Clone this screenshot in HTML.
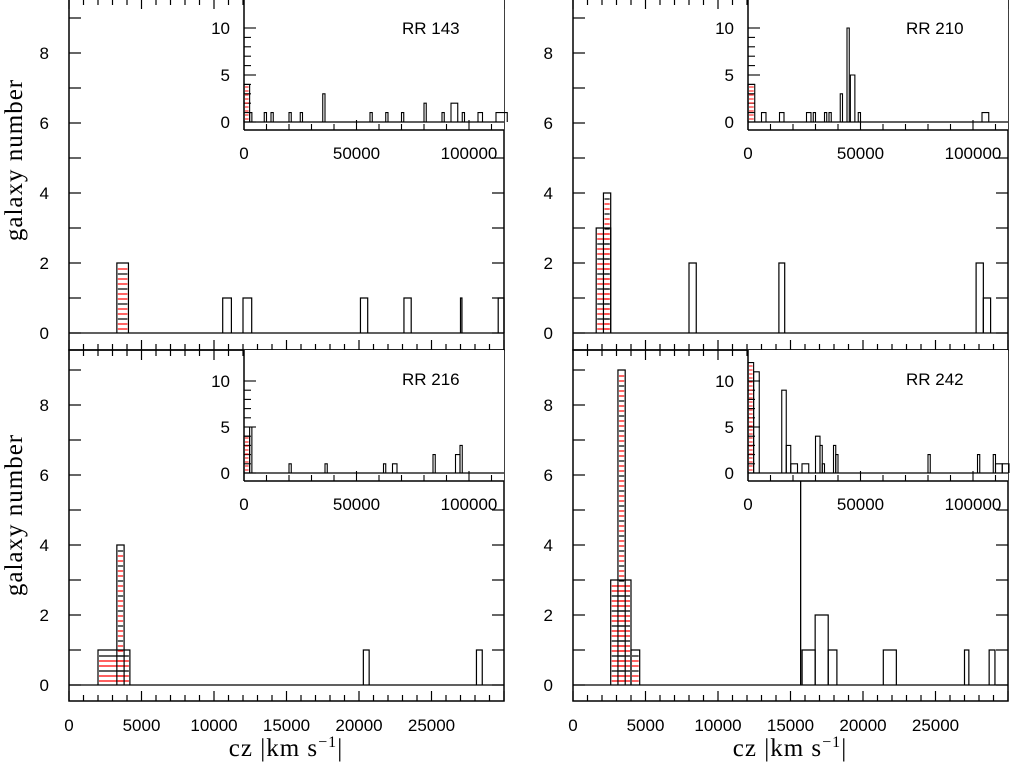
<!DOCTYPE html>
<html><head><meta charset="utf-8"><style>
html,body{margin:0;padding:0;background:#fff;}
svg{display:block;}
.tl{font-family:"Liberation Sans",sans-serif;font-size:17px;fill:#000;}
.ser{font-family:"Liberation Serif",serif;font-size:25px;fill:#000;}
</style></head><body>
<svg id="c" width="1010" height="764" xmlns="http://www.w3.org/2000/svg"></svg>
<script>
// main histogram data: [startKm, endKm, count]
const mainTicksX = [0,5000,10000,15000,20000,25000];
const mainTicksY = [0,2,4,6,8];
const insetTicksX = [0,50000,100000];
const insetTicksY = [0,5,10];
const rr143Main = [[10600,11200,1],[12000,12600,1],[20100,20600,1],[23100,23600,1],[27000,27100,1],[29600,30000,1]];
const rr143Hatch = [[3300,4100,2]];
const rr210Main = [[8000,8500,2],[14200,14600,2],[27800,28300,2],[28300,28800,1]];
const rr210Hatch = [[1600,2600,3],[2100,2600,4]];
const rr216Main = [[20300,20700,1],[28100,28500,1]];
const rr216Hatch = [[2000,4200,1],[3300,3800,4]];
const rr242Main = [[15800,16700,1],[16700,17600,2],[17600,18200,1],[21400,22300,1],[27000,27300,1],[28700,29100,1]];
const rr242Hatch = [[2600,4000,3],[3100,3600,9],[4000,4600,1]];
const rr242Line = [15700];
const rr143Inset = [[0,2500,4],[2500,3500,1],[9000,10000,1],[12000,13000,1],[20000,21000,1],[25000,26000,1],[35000,36000,3],[56000,57000,1],[63000,64000,1],[70000,71000,1],[80000,81000,2],[88000,89000,1],[92000,95000,2],[97000,98000,1],[104000,106000,1],[112000,117000,1]];
const rr210Inset = [[0,3000,4],[6000,8000,1],[14000,16000,1],[26000,28000,1],[29000,30000,1],[34000,35000,1],[36000,37000,1],[41000,42000,3],[44000,45000,10],[45500,47500,5],[49000,50000,1],[104000,107000,1]];
const rr216Inset = [[0,2500,4],[2500,3500,5],[20000,21000,1],[36000,37000,1],[62000,63000,1],[66000,68000,1],[84000,85000,2],[94000,96000,2],[96000,97000,3]];
const rr242Inset = [[0,2500,12],[2500,5000,11],[15000,17000,9],[17000,19000,3],[19000,22000,1],[24000,27000,1],[30000,32000,4],[32000,33000,3],[33000,34000,1],[38000,39000,3],[39000,40000,2],[80000,81000,2],[102000,103000,2],[109000,110000,2],[110000,113000,1],[113000,116000,1]];

const NS="http://www.w3.org/2000/svg";
const svg=document.getElementById('c');
function mk(tag,attrs,parent){const e=document.createElementNS(NS,tag);for(const k in attrs)e.setAttribute(k,attrs[k]);(parent||svg).appendChild(e);return e;}

function panel(cfg){
  const g=mk('g',{});
  
  
  const X=v=>cfg.x0+v*(cfg.x1-cfg.x0)/30000;
  const Y=v=>cfg.base-v*35;
  const fr=mk('rect',{x:cfg.x0,y:cfg.top,width:cfg.x1-cfg.x0,height:cfg.bot-cfg.top,fill:'none',stroke:'#000','stroke-width':1.5},g);
  
  
  mk('line',{x1:cfg.x0,x2:cfg.x1,y1:Y(0),y2:Y(0),stroke:'#000','stroke-width':1.3},g);
  for(let v=0;v<=30000;v+=1000){
    const big=v%5000===0;const L=big?10:6;
    mk('line',{x1:X(v),x2:X(v),y1:cfg.bot,y2:cfg.bot-L,stroke:'#000','stroke-width':1.2},g);
    mk('line',{x1:X(v),x2:X(v),y1:cfg.top,y2:cfg.top+L,stroke:'#000','stroke-width':1.2},g);
  }
  if(cfg.xlabels){
    mainTicksX.forEach(v=>{const t=mk('text',{x:X(v),y:cfg.bot+30,'text-anchor':'middle',class:'tl'},g);t.textContent=v;
      });
  }
  for(let v=0;v<=9;v++){
    mk('line',{x1:cfg.x0,x2:cfg.x0+12,y1:Y(v),y2:Y(v),stroke:'#000','stroke-width':1.2},g);
    mk('line',{x1:cfg.x1,x2:cfg.x1-12,y1:Y(v),y2:Y(v),stroke:'#000','stroke-width':1.2},g);
  }
  mainTicksY.forEach(v=>{const t=mk('text',{x:cfg.x0-20,y:Y(v)+6,'text-anchor':'end',class:'tl'},g);t.textContent=v;
    });
  cfg.hatch.forEach(b=>{
    const x0=X(b[0]),x1=X(b[1]),y1=Y(b[2]);
    let k=0;
    for(let y=Y(0)-4;y>y1+2;y-=5){mk('line',{x1:x0+1,x2:x1-1,y1:y,y2:y,stroke:(k++%3===2?'#000':'#f00'),'stroke-width':1.2},g);}
    const p=mk('path',{d:`M${x0},${Y(0)}V${y1}H${x1}V${Y(0)}`,fill:'none',stroke:'#000','stroke-width':1.2},g);
    
  });
  cfg.bars.forEach(b=>{
    const p=mk('path',{d:`M${X(b[0])},${Y(0)}V${Y(b[2])}H${X(b[1])}V${Y(0)}`,fill:'none',stroke:'#000','stroke-width':1.2},g);
    
  });
  (cfg.lines||[]).forEach(v=>{
    const l=mk('line',{x1:X(v),x2:X(v),y1:Y(0),y2:cfg.inTop+20,stroke:'#000','stroke-width':1.3},g);
    
  });
  const ix0=cfg.ix, ix1=cfg.x1, ib=cfg.ib, ibot=ib+8;
  const IX=v=>ix0+v*112.5/50000;
  const IY=v=>ib-v*cfg.iscale;
  const ig=mk('g',{},g);
  
  
  mk('rect',{x:ix0,y:cfg.inTop,width:ix1-ix0,height:ibot-cfg.inTop,fill:'#fff',stroke:'none'},ig);
  mk('line',{x1:ix0,x2:ix0,y1:cfg.inTop,y2:ibot,stroke:'#000','stroke-width':1.5},ig);
  mk('line',{x1:ix0,x2:ix1,y1:ibot,y2:ibot,stroke:'#000','stroke-width':1.5},ig);
  mk('line',{x1:ix0,x2:ix1,y1:ib,y2:ib,stroke:'#000','stroke-width':1.3},ig);
  for(let v=0;v<=115000;v+=10000){const big=v%50000===0;
    mk('line',{x1:IX(v),x2:IX(v),y1:ibot,y2:ibot-(big?10:6),stroke:'#000','stroke-width':1.1},ig);}
  for(let v=0;v<=10;v++){mk('line',{x1:ix0,x2:ix0+(v%5===0?12:7),y1:IY(v),y2:IY(v),stroke:'#000','stroke-width':1.1},ig);}
  insetTicksX.forEach(v=>{const t=mk('text',{x:IX(v),y:ibot+29,'text-anchor':'middle',class:'tl'},ig);t.textContent=v;
    });
  insetTicksY.forEach(v=>{const t=mk('text',{x:ix0-14,y:IY(v)+6,'text-anchor':'end',class:'tl'},ig);t.textContent=v;
    });
  cfg.inset.forEach((b,i)=>{
    if(i<1){for(let y=ib-3;y>IY(b[2])+1;y-=4)mk('line',{x1:IX(b[0])+1,x2:IX(b[1])-1,y1:y,y2:y,stroke:'#f00','stroke-width':1},ig);}
    const p=mk('path',{d:`M${IX(b[0])},${ib}V${IY(b[2])}H${IX(b[1])}V${ib}`,fill:'none',stroke:'#000','stroke-width':1.1},ig);
    
  });
  const lt=mk('text',{x:ix0+158,y:cfg.inTop+35,class:'tl'},ig);
  lt.textContent=cfg.title;lt.setAttribute('font-size','18');
  
}

panel({name:'panel-rr143',x0:69,x1:504,top:-1,bot:350,base:333,xlabels:false,bars:rr143Main,hatch:rr143Hatch,ix:244,ib:122,inTop:-1,iscale:9.4,inset:rr143Inset,title:'RR 143'});
panel({name:'panel-rr210',x0:573,x1:1008,top:-1,bot:350,base:333,xlabels:false,bars:rr210Main,hatch:rr210Hatch,ix:748,ib:122,inTop:-1,iscale:9.4,inset:rr210Inset,title:'RR 210'});
panel({name:'panel-rr216',x0:69,x1:504,top:350,bot:701,base:685,xlabels:true,bars:rr216Main,hatch:rr216Hatch,ix:244,ib:473,inTop:350,iscale:9.2,inset:rr216Inset,title:'RR 216'});
panel({name:'panel-rr242',x0:573,x1:1008,top:350,bot:701,base:685,xlabels:true,bars:rr242Main,hatch:rr242Hatch,lines:rr242Line,ix:748,ib:473,inTop:350,iscale:9.2,inset:rr242Inset,title:'RR 242'});

[[160,'y-axis-title-top'],[515,'y-axis-title-bottom']].forEach(a=>{
  const t=mk('text',{x:22,y:a[0],'text-anchor':'middle',class:'ser','letter-spacing':'1',transform:`rotate(-90 22 ${a[0]})`});
  t.textContent='galaxy number';
  
});
[[286,'x-axis-title-left'],[790,'x-axis-title-right']].forEach(a=>{
  const t=mk('text',{x:a[0],y:756,'text-anchor':'middle',class:'ser','letter-spacing':'1'});
  t.innerHTML='cz |km s<tspan dy="-9" font-size="16">−1</tspan><tspan dy="9">|</tspan>';
  
});
</script>
</body></html>
